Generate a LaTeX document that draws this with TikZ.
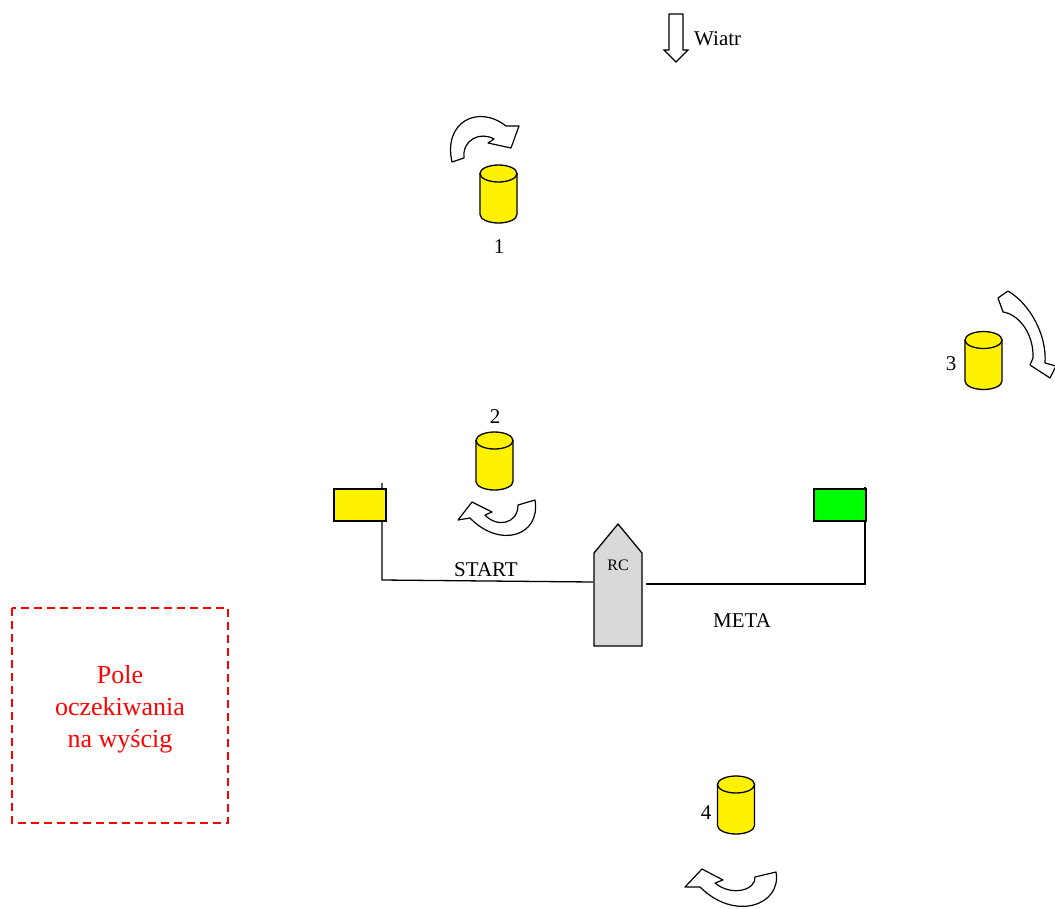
\documentclass[tikz,border=0pt]{standalone}
\usepackage{fontspec}
\setmainfont{Liberation Serif}
\definecolor{boatgray}{RGB}{217,217,217}

\tikzset{
	buoyline/.style={draw, fill=yellow, line width=1.3pt},
	turn/.style={draw, fill=white, line width=1.2pt, line join=round},
	txt/.style={font=\fontsize{21}{25}\selectfont, inner sep=0pt},
	flag/.style={draw, line width=1.3pt, minimum width=52pt, minimum height=32pt, inner sep=0pt},
}

% buoy: name, x, y of its middle
\newcommand{\buoy}[3]{
	\draw[buoyline] (#2-18.5,#3-20.5) -- (#2-18.5,#3+20.5) arc (180:0:18.5 and 8.5) -- (#2+18.5,#3-20.5) -- cycle;
	\draw[buoyline] (#2,#3-20.5) ellipse (18.5 and 8.5);
	\node[inner sep=0pt, minimum width=37pt, minimum height=58pt] (#1) at (#2,#3) {};
}

\begin{document}
\begin{tikzpicture}[x=1pt, y=-1pt]
	\useasboundingbox (0,0) rectangle (1055,908);

	% wind
	\draw[line width=1.2pt, fill=white] (669,14) -- (683,14) -- (683,50) -- (688,50) -- (676,62) -- (664,50) -- (669,50) -- cycle;
	\node[txt, anchor=west] (wind) at (694,39) {Wiatr};

	% buoys
	\buoy{b1}{498.5}{194}
	\buoy{b2}{494.5}{461}
	\buoy{b3}{983.5}{360.5}
	\buoy{b4}{736}{805}

	\node[txt] (n1) at (499,247) {1};
	\node[txt] (n2) at (495,417) {2};
	\node[txt] (n3) at (951,364) {3};
	\node[txt] (n4) at (706,813) {4};

	% rounding arrows
	\draw[turn] (452,162) .. controls (443,122) and (478,104) .. (506,126) -- (519,126) -- (511,148) -- (488,143) -- (494,139) .. controls (480,131) and (462,140) .. (464,158) -- cycle;
	\draw[turn] (1008,291) .. controls (1030,304) and (1047,335) .. (1045,363) -- (1056,366) -- (1050,378) -- (1030,365) -- (1033,358) .. controls (1034,333) and (1018,314) .. (1003,312) -- (998,298) -- cycle;
	\draw[turn] (535,500) .. controls (541,536) and (500,549) .. (470,518) -- (458,520) -- (472,502) -- (492,512) -- (485,515) .. controls (497,528) and (518,524) .. (518,505) -- cycle;
	\draw[turn] (776,872) .. controls (782,905) and (735,922) .. (700,887) -- (685,887) -- (702,869) -- (723,880) -- (715,883) .. controls (732,897) and (756,890) .. (755,877) -- cycle;

	% start and finish line
	\coordinate (ytop) at (382,483);
	\coordinate (yfoot) at (382,580);
	\coordinate (rcw) at (593,582);
	\coordinate (rce) at (646,584);
	\coordinate (gfoot) at (865,584);
	\coordinate (gtop) at (865,487);

	\draw[line width=1.3pt] (ytop) -- (yfoot) -- (rcw);
	\draw[line width=1.3pt] (rce) -- (gfoot) -- (gtop);

	\node[flag, fill=yellow] (yflag) at (360,505) {};
	\node[flag, fill=green] (gflag) at (840,505) {};

	% committee boat
	\draw[line width=1.3pt, fill=boatgray] (594,553) -- (618,524) -- (642,553) -- (642,646) -- (594,646) -- cycle;
	\node[font=\fontsize{16}{18}\selectfont, inner sep=0pt] (rc) at (618,565) {RC};

	\node[txt] (start) at (486,570) {START};
	\node[txt] (meta) at (742,621) {META};

	% waiting area
	\draw[red, line width=1.5pt, dash pattern=on 8pt off 5pt] (12,608) rectangle (228,823);
	\node[red, align=center, font=\fontsize{26}{32}\selectfont] (wait) at (120,709) {Pole\\oczekiwania\\na wyścig};

\end{tikzpicture}
\end{document}
